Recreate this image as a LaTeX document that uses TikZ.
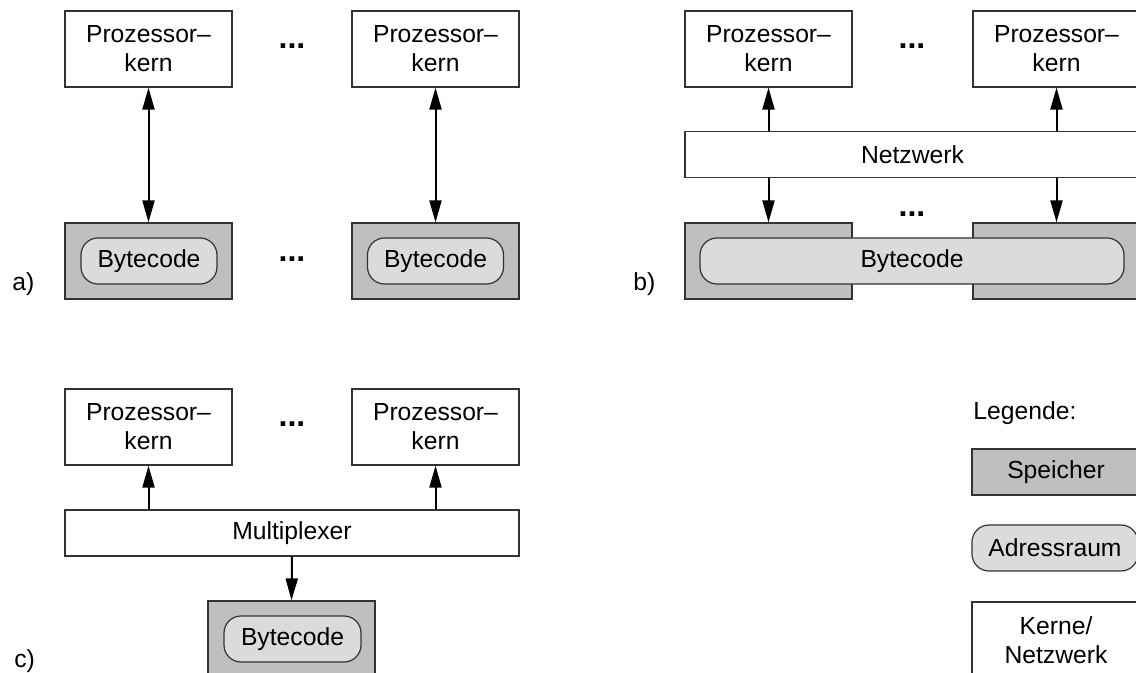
\documentclass[tikz,border=0pt]{standalone}
\usepackage{fontspec}
\setmainfont{Liberation Sans}
\usetikzlibrary{arrows.meta}

\definecolor{memgray}{gray}{0.75}
\definecolor{addrgray}{gray}{0.86}
\definecolor{edgegray}{gray}{0.2}

\tikzset{
  every node/.style={font=\fontsize{12.35}{14.5}\selectfont, inner sep=0pt},
  corebox/.style={draw=edgegray, line width=0.6pt, fill=white, align=center,
    minimum width=83.5pt, minimum height=38pt},
  membox/.style={draw=edgegray, line width=0.6pt, fill=memgray,
    minimum width=83.5pt, minimum height=38pt},
  addrbox/.style={draw=edgegray, line width=0.6pt, fill=addrgray,
    rounded corners=8.5pt, minimum height=23pt},
  barbox/.style={draw=edgegray, line width=0.6pt, fill=white, minimum height=23pt},
  tipshape/.tip={Triangle[length=11pt,width=6pt]},
  link/.style={line width=1pt, -tipshape},
  biLink/.style={line width=1pt, tipshape-tipshape},
  dotsmark/.style={font=\fontsize{16}{18}\selectfont\bfseries, anchor=base},
  tag/.style={anchor=base west}
}

\begin{document}
\begin{tikzpicture}[x=0.5pt, y=-0.5pt]
\useasboundingbox (0,0) rectangle (1136,673);
\clip (0,0) rectangle (1136,673);

% ---------- a) separate memories ----------
\node[corebox] (a-p1) at (148.5,49) {Prozessor–\\kern};
\node[corebox] (a-p2) at (435.5,49) {Prozessor–\\kern};
\node[membox] (a-m1) at (148.5,261) {};
\node[membox] (a-m2) at (435.5,261) {};
\node[addrbox, minimum width=68pt] (a-b1) at (149,261) {Bytecode};
\node[addrbox, minimum width=68pt] (a-b2) at (435.5,261) {Bytecode};
\node[dotsmark] (a-d1) at (292,49) {...};
\node[dotsmark] (a-d2) at (292,262) {...};
\node[tag] (a-lab) at (12,291) {a)};
\draw[biLink] (a-p1.south) -- (a-m1.north);
\draw[biLink] (a-p2.south) -- (a-m2.north);

% ---------- b) shared address space over a network ----------
\node[corebox] (b-p1) at (768.5,49) {Prozessor–\\kern};
\node[corebox] (b-p2) at (1056.5,49) {Prozessor–\\kern};
\node[barbox, minimum width=227.5pt] (b-net) at (912.5,154.5) {Netzwerk};
\node[membox] (b-m1) at (768.5,261) {};
\node[membox] (b-m2) at (1056.5,261) {};
\node[addrbox, minimum width=212pt] (b-b) at (912,261) {Bytecode};
\node[dotsmark] (b-d1) at (912,49) {...};
\node[dotsmark] (b-d2) at (912,217) {...};
\node[tag] (b-lab) at (633,291) {b)};
\draw[link] (b-net.north -| b-p1.south) -- (b-p1.south);
\draw[link] (b-net.north -| b-p2.south) -- (b-p2.south);
\draw[link] (b-net.south -| b-m1.north) -- (b-m1.north);
\draw[link] (b-net.south -| b-m2.north) -- (b-m2.north);

% ---------- c) one memory behind a multiplexer ----------
\node[corebox] (c-p1) at (148.5,427) {Prozessor–\\kern};
\node[corebox] (c-p2) at (435.5,427) {Prozessor–\\kern};
\node[barbox, minimum width=227pt] (c-mux) at (292,533) {Multiplexer};
\node[membox] (c-m) at (291.5,639) {};
\node[addrbox, minimum width=68.5pt] (c-b) at (292.5,639) {Bytecode};
\node[dotsmark] (c-d) at (292,427) {...};
\node[tag] (c-lab) at (14,668) {c)};
\draw[link] (c-mux.north -| c-p1.south) -- (c-p1.south);
\draw[link] (c-mux.north -| c-p2.south) -- (c-p2.south);
\draw[link] (c-mux.south) -- (c-m.north);

% ---------- legend ----------
\node[anchor=west] (lg-title) at (973,413) {Legende:};
\node[membox, minimum width=84pt, minimum height=23pt] (lg-mem) at (1056,472) {Speicher};
\node[addrbox, minimum width=83pt] (lg-addr) at (1055,548) {Adressraum};
\node[corebox, minimum width=84pt] (lg-core) at (1056,640) {Kerne/\\Netzwerk};
\end{tikzpicture}
\end{document}
